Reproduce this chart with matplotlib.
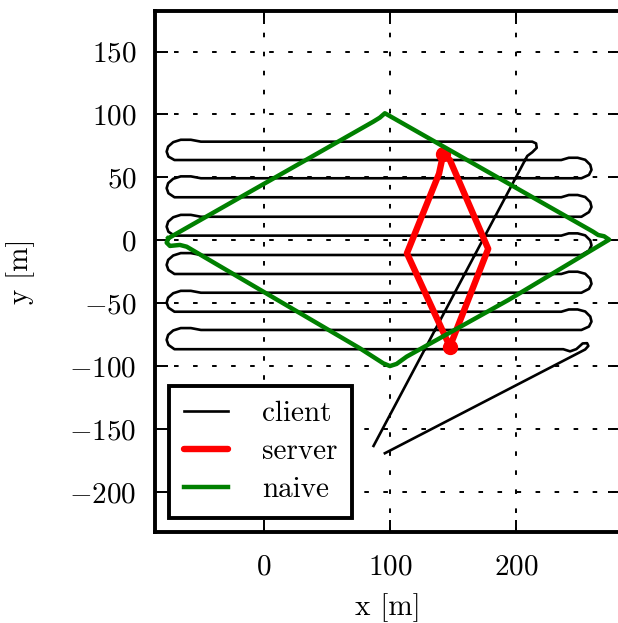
import matplotlib
matplotlib.use('Agg')
import matplotlib.pyplot as plt
from matplotlib.ticker import FixedLocator, FuncFormatter

plt.rcParams['font.family'] = ['cmr10', 'DejaVu Serif']
plt.rcParams['mathtext.fontset'] = 'cm'
plt.rcParams['axes.unicode_minus'] = False
plt.rcParams['axes.formatter.use_mathtext'] = True
plt.rcParams['lines.scale_dashes'] = False

# ---------------- data ----------------
client_x = [87, 209, 213, 216.5, 216, 213,
            -50, -58, -66, -72, -76, -77.2, -75.8, -71, -60,
            236, 242, 249, 255, 259, 260, 258, 252, 240,
            -50, -58, -66, -72, -76, -77.2, -75.8, -71, -60,
            236, 242, 249, 255, 259, 260, 258, 252, 240,
            -50, -58, -66, -72, -76, -77.2, -75.8, -71, -60,
            236, 242, 249, 255, 259, 260, 258, 252, 240,
            -50, -58, -66, -72, -76, -77.2, -75.8, -71, -60,
            236, 242, 249, 255, 259, 260, 258, 252, 240,
            -50, -58, -66, -72, -76, -77.2, -75.8, -71, -60,
            236, 242, 249, 255, 259, 260, 258, 252, 240,
            -50, -58, -66, -72, -76, -77.2, -75.8, -71, -60,
            237.6, 243, 248, 253, 256.5, 257.5, 255, 96]
client_y = [-163.5, 67, 70, 73.5, 77, 78.4,
            78.4, 79.9, 79.9, 78.0, 74.5, 70.5, 66.5, 63.8, 63.8,
            63.8, 65.6, 65.6, 64.0, 60.0, 56.0, 52.0, 49.3, 49.3,
            49.3, 50.8, 50.8, 48.9, 45.4, 41.4, 37.4, 34.2, 34.2,
            34.2, 36.0, 36.0, 34.4, 30.4, 26.4, 22.4, 18.7, 18.7,
            18.7, 20.2, 20.2, 18.3, 14.8, 10.8, 6.8, 3.7, 3.7,
            3.7, 5.5, 5.5, 3.9, -0.1, -4.1, -8.1, -11.7, -11.7,
            -11.7, -10.2, -10.2, -12.1, -15.6, -19.6, -23.6, -26.8, -26.8,
            -26.8, -25.0, -25.0, -26.6, -30.6, -34.6, -38.6, -41.7, -41.7,
            -41.7, -40.2, -40.2, -42.1, -45.6, -49.6, -53.6, -56.8, -56.8,
            -56.8, -55.0, -55.0, -56.6, -60.6, -64.6, -68.6, -71.3, -71.3,
            -71.3, -69.8, -69.8, -71.7, -75.2, -79.2, -83.2, -86.6, -86.6,
            -86.6, -88.3, -86.5, -82.0, -81.8, -84.0, -86.8, -169.3]

server_x = [142.3, 139, 113.5, 147.6, 178, 147.6, 143.5]
server_y = [68.5, 53, -10.3, -84.5, -6.8, 63.8, 67.5]
server_marked = [0, 3]

naive_x = [-75.9, 86.8, 92, 96, 261.3, 265.3, 270, 274, 194, 113.3, 105.3,
           100, 94.7, 76.2, -61.3, -66.7, -74.6, -77.2, -75.9]
naive_y = [1.6, 94.3, 97.5, 101, 6.8, 4.2, 3.2, 0.5, -47.5, -92.5, -98.3,
           -100, -97.8, -85.9, -5.1, -3.7, -4.5, -1.9, 1.6]

x_ticks = [0, 100, 200]
y_ticks = [-200, -150, -100, -50, 0, 50, 100, 150]
series_labels = ['client', 'server', 'naive']

# ---------------- figure ----------------
FS = 21
fig = plt.figure(figsize=(6.18, 6.23), dpi=100)
ax = fig.add_axes([0.2503, 0.1461, 0.7529, 0.8363])

ax.plot(client_x, client_y, color='black', lw=1.9, solid_joinstyle='round',
        label=series_labels[0], zorder=3)
ax.plot(server_x, server_y, color='red', lw=4.6, solid_joinstyle='round',
        solid_capstyle='round', label=series_labels[1], zorder=4)
ax.plot([server_x[i] for i in server_marked], [server_y[i] for i in server_marked],
        ls='none', marker='o', ms=10, color='red', zorder=4)
ax.plot(naive_x, naive_y, color='green', lw=3.2, solid_joinstyle='round',
        label=series_labels[2], zorder=5)

ax.set_xlim(-86.7, 282.6)
ax.set_ylim(-231.9, 182.3)
ax.xaxis.set_major_locator(FixedLocator(x_ticks))
ax.yaxis.set_major_locator(FixedLocator(y_ticks))
fmt = FuncFormatter(lambda v, p: r'$\mathrm{%d}$' % int(round(v)))
ax.xaxis.set_major_formatter(fmt)
ax.yaxis.set_major_formatter(fmt)

ax.grid(True, color='black', lw=1.4, ls=(0, (3.3, 10.4)), zorder=1)
ax.set_axisbelow(True)

for s in ax.spines.values():
    s.set_linewidth(2.8)
ax.tick_params(direction='in', length=9, width=1.4, top=True, right=True,
               labelsize=FS, colors='black')
ax.tick_params(axis='x', pad=16)
ax.tick_params(axis='y', pad=13)

ax.set_xlabel('x [m]', fontsize=FS, labelpad=9)
ax.set_ylabel('y [m]', fontsize=FS, labelpad=25)

leg = ax.legend(loc='lower left', bbox_to_anchor=(0.0307, 0.0269),
                borderaxespad=0, fontsize=FS, frameon=True, fancybox=False,
                framealpha=1, edgecolor='black', handlelength=1.54,
                handletextpad=1.15, borderpad=0.5, labelspacing=0.4)
leg.get_frame().set_linewidth(2.8)
leg.set_zorder(10)

fig.savefig('out.png', dpi=100)
